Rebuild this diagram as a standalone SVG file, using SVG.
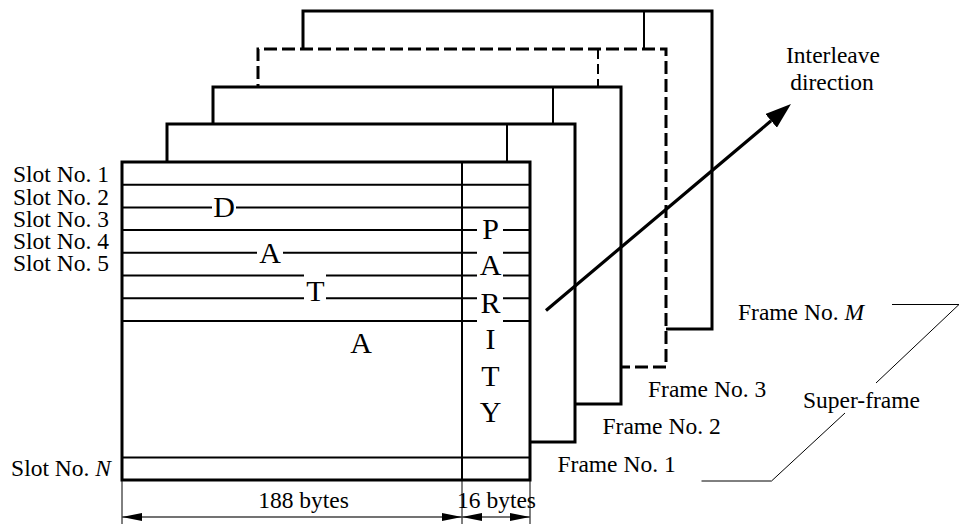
<svg xmlns="http://www.w3.org/2000/svg" width="965" height="525" viewBox="0 0 965 525">
<defs>
<style>
.frame{fill:#fff;stroke:#000;stroke-width:3}
.dash{fill:#fff;stroke:#000;stroke-width:3;stroke-dasharray:13 5}
.div{stroke:#000;stroke-width:2;fill:none}
.divd{stroke:#000;stroke-width:2;fill:none;stroke-dasharray:10 5}
.slot{stroke:#000;stroke-width:2;fill:none}
.thin{stroke:#000;stroke-width:1;fill:none}
.dim{stroke:#444;stroke-width:1.3;fill:none}
.lbl{font-family:"Liberation Serif","Times New Roman",serif;font-size:23.5px;fill:#000}
.big{font-family:"Liberation Serif","Times New Roman",serif;font-size:30px;fill:#000;text-anchor:middle}
</style>
<marker id="arrowBig" markerUnits="userSpaceOnUse" markerWidth="26" markerHeight="18" viewBox="0 0 26 18" refX="0" refY="9" orient="auto">
<path d="M0,0 L26,9 L0,18 z" fill="#000"/>
</marker>
<marker id="dimArrow" markerUnits="userSpaceOnUse" markerWidth="20" markerHeight="8" viewBox="0 0 20 8" refX="20" refY="4" orient="auto">
<path d="M0,0 L20,4 L0,8 z" fill="#000"/>
</marker>
</defs>
<rect width="965" height="525" fill="#fff"/>

<g id="frame-M">
<rect class="frame" x="303" y="11" width="409" height="318"/>
<line class="div" x1="644" y1="11" x2="644" y2="49"/>
</g>
<g id="frame-3">
<path class="dash" d="M258,367 L258,49 L666,49 L666,367 Z"/>
<line class="divd" x1="598" y1="49" x2="598" y2="87"/>
</g>
<g id="frame-2">
<rect class="frame" x="213" y="87" width="408" height="317"/>
<line class="div" x1="553" y1="87" x2="553" y2="124"/>
</g>
<g id="frame-1">
<rect class="frame" x="167" y="124" width="408" height="318"/>
<line class="div" x1="507" y1="124" x2="507" y2="162"/>
</g>
<g id="frame-front">
<rect class="frame" x="122" y="162" width="408" height="318"/>
<line class="div" x1="462" y1="162" x2="462" y2="480"/>
<path class="slot" d="M122,184.7H530 M122,207.4H212 M236,207.4H530 M122,230.1H477 M503,230.1H530 M122,252.8H257 M283,252.8H477 M503,252.8H530 M122,275.5H304 M326,275.5H477 M503,275.5H530 M122,298.2H304 M326,298.2H477 M503,298.2H530 M122,320.9H477 M503,320.9H530 M122,457.5H530"/>
<text class="big" x="224" y="217.3">D</text>
<text class="big" x="270" y="262.5">A</text>
<text class="big" x="315.5" y="300.7">T</text>
<text class="big" x="361" y="353">A</text>
<text class="big" x="490.5" y="238.5">P</text>
<text class="big" x="490.5" y="275.2">A</text>
<text class="big" x="490.5" y="312.7">R</text>
<text class="big" x="490.5" y="349.3">I</text>
<text class="big" x="490.5" y="385.8">T</text>
<text class="big" x="490.5" y="422.2">Y</text>
</g>

<g id="slot-labels" class="lbl" text-anchor="end">
<text x="109" y="182">Slot No. 1</text>
<text x="109" y="204.5">Slot No. 2</text>
<text x="109" y="226.8">Slot No. 3</text>
<text x="109" y="249">Slot No. 4</text>
<text x="109" y="271.2">Slot No. 5</text>
<text x="111" y="476">Slot No. <tspan font-style="italic">N</tspan></text>
</g>

<g id="frame-labels" class="lbl">
<text x="738" y="320">Frame No. <tspan font-style="italic">M</tspan></text>
<text x="648" y="396.5">Frame No. 3</text>
<text x="602.5" y="434.3">Frame No. 2</text>
<text x="557.5" y="472.3">Frame No. 1</text>
<text x="803" y="408">Super-frame</text>
<text x="833" y="62.5" text-anchor="middle">Interleave</text>
<text x="832" y="90" text-anchor="middle">direction</text>
<text x="303.5" y="508" text-anchor="middle">188 bytes</text>
<text x="496.5" y="508" text-anchor="middle">16 bytes</text>
</g>

<g id="connectors">
<line x1="546" y1="310.5" x2="771.1" y2="120.8" stroke="#000" stroke-width="3.2" marker-end="url(#arrowBig)"/>
<path class="thin" d="M122,480V524 M462,480V524 M530,480V524"/>
<line class="dim" x1="292" y1="517" x2="122" y2="517" marker-end="url(#dimArrow)"/>
<line class="dim" x1="292" y1="517" x2="462" y2="517" marker-end="url(#dimArrow)"/>
<line class="dim" x1="496" y1="517" x2="462" y2="517" marker-end="url(#dimArrow)"/>
<line class="dim" x1="496" y1="517" x2="530" y2="517" marker-end="url(#dimArrow)"/>
<path class="thin" d="M892,304.5H959 L876,383 M845,413 L771.5,481H701.5"/>
</g>
</svg>
